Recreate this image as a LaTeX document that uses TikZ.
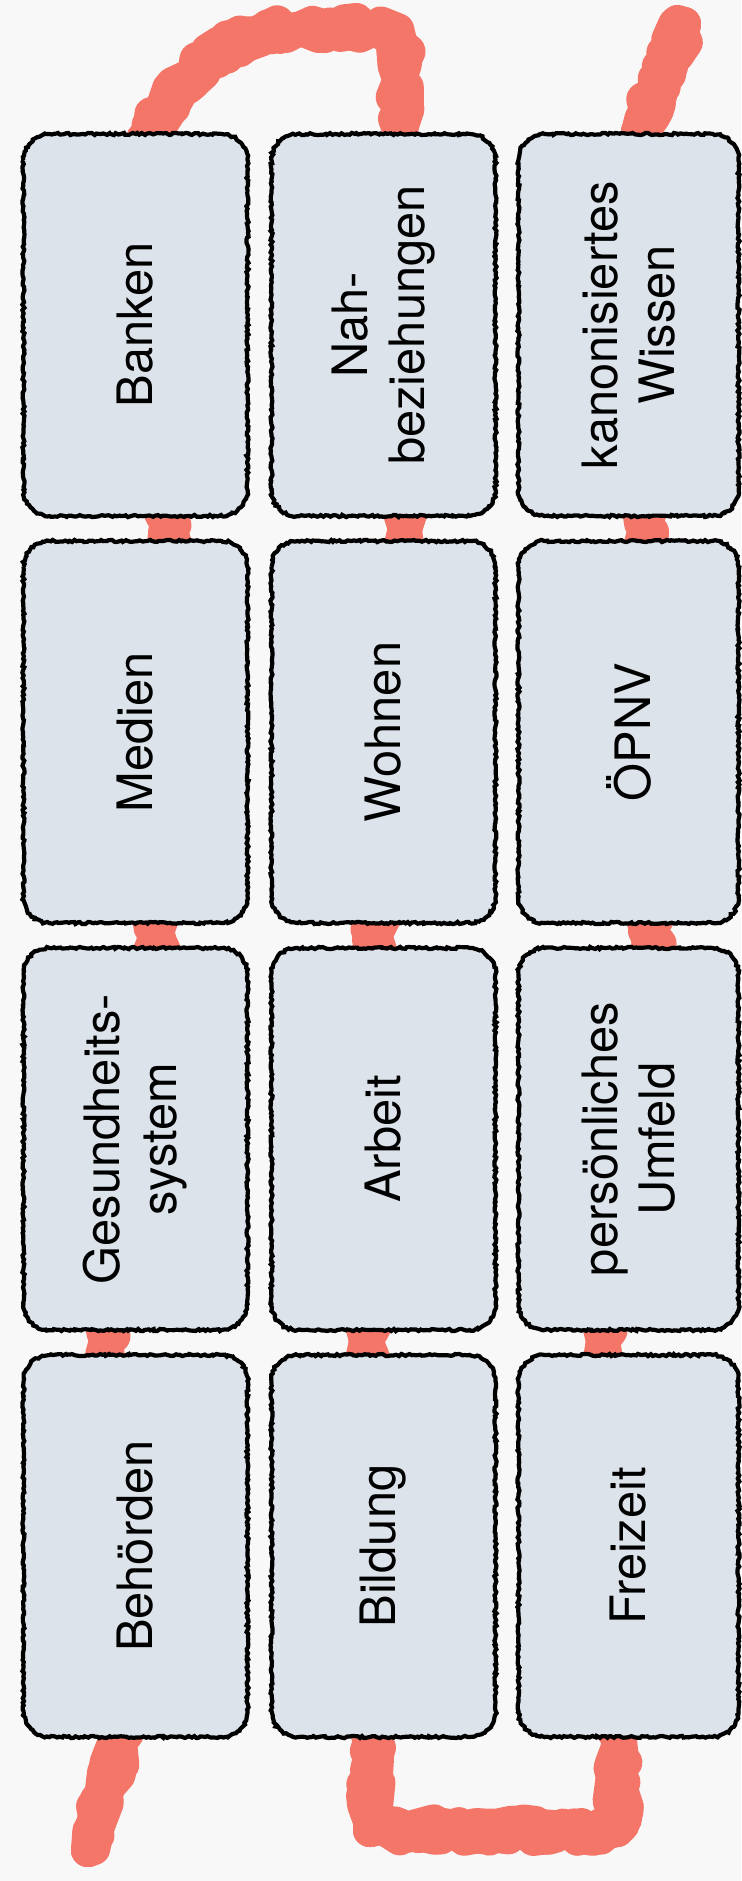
\documentclass[tikz,border=0pt]{standalone}
\usepackage{fontspec}
\setmainfont{TeX Gyre Heros}
\usetikzlibrary{decorations.pathmorphing}
\definecolor{paper}{HTML}{F8F8F8}
\definecolor{card}{HTML}{DCE3EA}
\definecolor{crayon}{HTML}{F47669}

\begin{document}
\begin{tikzpicture}[
    x=0.5pt, y=-0.5pt,
    field/.style={fill=card, rounded corners=13pt, rotate=90,
        minimum width=191pt, minimum height=112pt, align=center,
        font=\fontsize{24.4}{28.5}\selectfont,
        postaction={draw=black, line width=2.1pt, sharp corners, decorate,
            decoration={random steps, segment length=1.2pt, amplitude=0.55pt}}},
    trail/.style={draw=crayon, line width=17pt, line cap=round, line join=round,
        decorate, decoration={random steps, segment length=6pt, amplitude=4.5pt}}
]

% Canvas
\fill[paper] (0,0) rectangle (741,1881);
\useasboundingbox (0,0) rectangle (741,1881);

% Trail waypoints (gaps between the cards)
\coordinate (t0) at (88,1850);
\coordinate (t1) at (120,1742);
\coordinate (t2) at (106,1341);
\coordinate (t3) at (156,936);
\coordinate (t4) at (170,529);
\coordinate (t5) at (150,132);
\coordinate (t6) at (400,132);
\coordinate (t7) at (405,529);
\coordinate (t8) at (375,936);
\coordinate (t9) at (366,1341);
\coordinate (t10) at (370,1742);
\coordinate (t11) at (370,1830);
\coordinate (t12) at (617,1830);
\coordinate (t13) at (620,1742);
\coordinate (t14) at (603,1341);
\coordinate (t15) at (653,936);
\coordinate (t16) at (645,529);
\coordinate (t17) at (638,132);
\coordinate (t18) at (684,24);

% Red crayon trail, drawn a few times for the rough edge
\foreach \s in {11,23,37,51} {
  \pgfmathsetseed{\s}
  \draw[trail] (t0) -- (t1) -- (t2) -- (t3) -- (t4) -- (t5)
    .. controls (185,62) and (240,30) .. (300,29) -- (375,28)
    .. controls (396,28) and (399,47) .. (399,80) -- (t6)
    -- (t7) -- (t8) -- (t9) -- (t10) -- (t11) -- (t12) -- (t13)
    -- (t14) -- (t15) -- (t16) -- (t17) -- (t18);
}

% Column 1
\node[field] (banken) at (135.5,325) {Banken};
\node[field] (medien) at (135.5,732) {Medien};
\node[field] (gesundheit) at (135.5,1139) {Gesundheits-\\system};
\node[field] (behoerden) at (135.5,1546) {Behörden};

% Column 2
\node[field] (nah) at (383.5,325) {Nah-\\beziehungen};
\node[field] (wohnen) at (383.5,732) {Wohnen};
\node[field] (arbeit) at (383.5,1139) {Arbeit};
\node[field] (bildung) at (383.5,1546) {Bildung};

% Column 3 (cut at the right edge)
\node[field, minimum height=110pt] (wissen) at (628.5,325) {kanonisiertes\\Wissen};
\node[field, minimum height=110pt] (oepnv) at (628.5,732) {ÖPNV};
\node[field, minimum height=110pt] (umfeld) at (628.5,1139) {persönliches\\Umfeld};
\node[field, minimum height=110pt] (freizeit) at (628.5,1546) {Freizeit};

\end{tikzpicture}
\end{document}
